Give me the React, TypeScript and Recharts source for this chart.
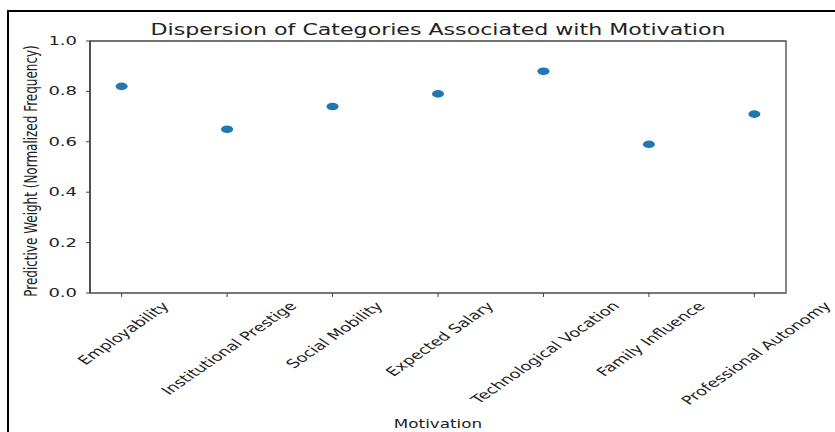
import {
	Label,
	ReferenceArea,
	Scatter,
	ScatterChart,
	XAxis,
	YAxis,
} from "recharts";

const motivations = [
	"Employability",
	"Institutional Prestige",
	"Social Mobility",
	"Expected Salary",
	"Technological Vocation",
	"Family Influence",
	"Professional Autonomy",
];
const weights = [0.82, 0.65, 0.74, 0.79, 0.88, 0.59, 0.71];
const xTicks = [0, 1, 2, 3, 4, 5, 6];
const yTicks = [0, 0.2, 0.4, 0.6, 0.8, 1.0];

const FONT = '"DejaVu Sans", sans-serif';
const INK = "#222";
const STRETCH = 1.5;

// the source picture is stretched sideways, so text gets a scaleX too
const measureCtx =
	typeof document !== "undefined"
		? document.createElement("canvas").getContext("2d")
		: null;

function textWidth(text: string, size: number) {
	if (!measureCtx) return text.length * size * 0.58;
	measureCtx.font = `${size}px "DejaVu Sans"`;
	return measureCtx.measureText(text).width;
}

function YTick({ x, y, payload }: any) {
	return (
		<text
			transform={`translate(${x},${y}) scale(${STRETCH},1)`}
			textAnchor="end"
			dominantBaseline="central"
			fontFamily={FONT}
			fontSize={12}
			fill={INK}
		>
			{Number(payload.value).toFixed(1)}
		</text>
	);
}

function XTick({ x, y, payload }: any) {
	const label = motivations[payload.value] ?? "";
	const size = 12;
	const w = textWidth(label, size);
	const h = size * 1.1;
	const cy = y + ((w + h) / 2) * Math.SQRT1_2;
	return (
		<text
			transform={`translate(${x + 2},${cy}) scale(${STRETCH},1) rotate(-46)`}
			textAnchor="middle"
			dominantBaseline="central"
			fontFamily={FONT}
			fontSize={size}
			fill={INK}
		>
			{label}
		</text>
	);
}

function XTitle({ viewBox }: any) {
	const cx = viewBox.x + viewBox.width / 2;
	return (
		<text
			transform={`translate(${cx},423) scale(1.4,1)`}
			textAnchor="middle"
			dominantBaseline="central"
			fontFamily={FONT}
			fontSize={12}
			fill={INK}
		>
			Motivation
		</text>
	);
}

function YTitle({ viewBox }: any) {
	const cy = viewBox.y + viewBox.height / 2 + 4;
	return (
		<text
			transform={`translate(31,${cy}) scale(${STRETCH},1) rotate(-90)`}
			textAnchor="middle"
			dominantBaseline="central"
			fontFamily={FONT}
			fontSize={12}
			fill={INK}
		>
			Predictive Weight (Normalized Frequency)
		</text>
	);
}

function Dot({ cx, cy }: any) {
	return <ellipse cx={cx} cy={cy} rx={6} ry={3.8} fill="#1f77b4" />;
}

export default function App() {
	const data = motivations.map((name, i) => ({
		idx: i,
		name,
		weight: weights[i],
	}));

	return (
		<div
			style={{
				position: "absolute",
				left: 0,
				top: 0,
				width: 835,
				height: 432,
				background: "#fff",
				overflow: "hidden",
			}}
		>
			<div
				style={{
					position: "absolute",
					left: 7,
					top: 10,
					right: 0,
					bottom: 0,
					borderTop: "2px solid #000",
					borderLeft: "2px solid #000",
				}}
			/>
			<ScatterChart
				width={835}
				height={432}
				margin={{ top: 41, right: 49, bottom: 0, left: 30 }}
				style={{ position: "absolute", left: 0, top: 0 }}
			>
				<text
					x={438}
					y={35}
					textAnchor="middle"
					fontFamily={FONT}
					fontSize={16}
					fill={INK}
					textLength={575}
					lengthAdjust="spacingAndGlyphs"
				>
					Dispersion of Categories Associated with Motivation
				</text>
				<ReferenceArea
					x1={-0.3}
					x2={6.3}
					y1={0}
					y2={1}
					fill="none"
					stroke="#444"
					strokeWidth={1.3}
				/>
				<XAxis
					type="number"
					dataKey="idx"
					domain={[-0.3, 6.3]}
					ticks={xTicks}
					interval={0}
					height={139}
					tickSize={4}
					tickMargin={3}
					tick={<XTick />}
					tickLine={{ stroke: "#444" }}
					axisLine={{ stroke: "#777", strokeWidth: 2 }}
				>
					<Label content={<XTitle />} />
				</XAxis>
				<YAxis
					type="number"
					dataKey="weight"
					domain={[0, 1]}
					ticks={yTicks}
					width={60}
					tickSize={4}
					tickMargin={9}
					tick={<YTick />}
					tickLine={{ stroke: "#444" }}
					axisLine={{ stroke: "#333", strokeWidth: 1.3 }}
				>
					<Label content={<YTitle />} />
				</YAxis>
				<Scatter
					data={data}
					shape={<Dot />}
					isAnimationActive={false}
				/>
			</ScatterChart>
		</div>
	);
}
